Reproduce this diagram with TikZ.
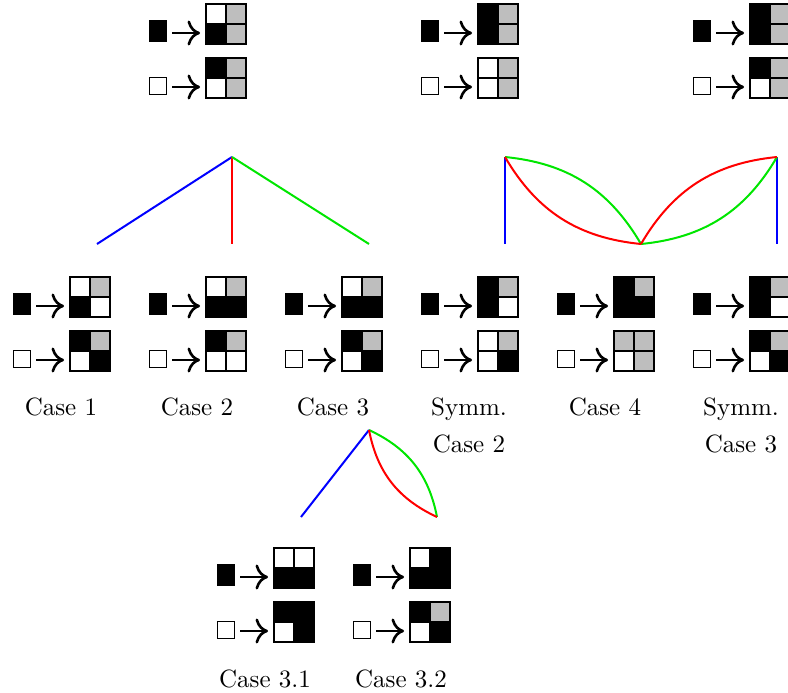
\documentclass[tikz,border=0pt]{standalone}
\usetikzlibrary{arrows.meta}
\definecolor{cellgray}{RGB}{190,190,190}
\definecolor{tb}{RGB}{0,0,255}
\definecolor{tr}{RGB}{255,0,0}
\definecolor{tg}{RGB}{0,230,0}
\tikzset{
  maparrow/.style={line width=1.05pt,-{Computer Modern Rightarrow[length=5pt,width=10pt]}},
  cellline/.style={draw=black,line width=0.45pt},
  branch/.style={line width=0.8pt},
  caselabel/.style={anchor=base,inner sep=0pt,font=\fontsize{10}{12}\selectfont}
}
% one cell of a 2x2 grid: #1 x, #2 y (top-left), #3 colour
\newcommand{\Cell}[3]{\fill[#3] (#1,#2) rectangle ++(20,20);}
% 2x2 grid at top-left (#1,#2), cells TL TR BL BR
\newcommand{\Quad}[6]{%
  \Cell{#1}{#2}{#3}\Cell{#1+20}{#2}{#4}\Cell{#1}{#2+20}{#5}\Cell{#1+20}{#2+20}{#6}%
  \draw[cellline] (#1,#2) rectangle ++(40,40);
  \draw[cellline] (#1+20,#2) -- ++(0,40);
  \draw[cellline] (#1,#2+20) -- ++(40,0);}
% group: grid left #1, top #2, then 4 colours for black rule, 4 for white rule
\newcommand{\Grp}[2]{\GrpA{#1}{#2}}
\newcommand{\GrpA}[2]{\def\gx{#1}\def\gy{#2}\GrpB}
\newcommand{\GrpB}[8]{%
  \fill[black] (\gx-57,\gy+16) rectangle (\gx-39,\gy+38);
  \draw[maparrow] (\gx-34,\gy+29) -- (\gx-6,\gy+29);
  \Quad{\gx}{\gy}{#1}{#2}{#3}{#4}
  \draw[line width=0.45pt,fill=white] (\gx-56.5,\gy+73.5) rectangle (\gx-39.5,\gy+90.5);
  \draw[maparrow] (\gx-34,\gy+83) -- (\gx-6,\gy+83);
  \Quad{\gx}{\gy+54}{#5}{#6}{#7}{#8}}
\begin{document}
\begin{tikzpicture}[x=0.4pt,y=-0.4pt]
\useasboundingbox (0,0) rectangle (788,693);
\begin{scope}
\clip (0,0) rectangle (788,693);
% top row
\Grp{206}{4}{white}{cellgray}{black}{cellgray}{black}{cellgray}{white}{cellgray}
\Grp{478}{4}{black}{cellgray}{black}{cellgray}{white}{cellgray}{white}{cellgray}
\Grp{750}{4}{black}{cellgray}{black}{cellgray}{black}{cellgray}{white}{cellgray}
% second row
\Grp{70}{277}{white}{cellgray}{black}{white}{black}{cellgray}{white}{black}
\Grp{206}{277}{white}{cellgray}{black}{black}{black}{cellgray}{white}{white}
\Grp{342}{277}{white}{cellgray}{black}{black}{black}{cellgray}{white}{black}
\Grp{478}{277}{black}{cellgray}{black}{white}{white}{cellgray}{white}{black}
\Grp{614}{277}{black}{cellgray}{black}{black}{cellgray}{cellgray}{white}{cellgray}
\Grp{750}{277}{black}{cellgray}{black}{white}{black}{cellgray}{white}{black}
% third row
\Grp{274}{548}{white}{white}{black}{black}{black}{black}{white}{black}
\Grp{410}{548}{white}{black}{black}{black}{black}{cellgray}{white}{black}
\end{scope}
% labels
\node[caselabel] (l1) at (61,415) {Case 1};
\node[caselabel] (l2) at (197,415) {Case 2};
\node[caselabel] (l3) at (333,415) {Case 3};
\node[caselabel] (l4a) at (469,415) {Symm.};
\node[caselabel] (l4b) at (469,452) {Case 2};
\node[caselabel] (l5) at (605,415) {Case 4};
\node[caselabel] (l6a) at (741,415) {Symm.};
\node[caselabel] (l6b) at (741,452) {Case 3};
\node[caselabel] (l7) at (265,687) {Case 3.1};
\node[caselabel] (l8) at (401,687) {Case 3.2};
% tree coordinates
\coordinate (r1) at (232,157);
\coordinate (a1) at (97,244);
\coordinate (a2) at (232,244);
\coordinate (a3) at (369,244);
\coordinate (r2) at (505,157);
\coordinate (r3) at (777,157);
\coordinate (b1) at (505,244);
\coordinate (b2) at (641,244);
\coordinate (b3) at (777,244);
\coordinate (r4) at (369,430);
\coordinate (c1) at (301,517);
\coordinate (c2) at (437,517);
% tree 1
\draw[branch,tb] (r1) -- (a1);
\draw[branch,tr] (r1) -- (a2);
\draw[branch,tg] (r1) -- (a3);
% tree 2
\draw[branch,tb] (r2) -- (b1);
\draw[branch,tg] (r2) to[bend left=27] (b2);
\draw[branch,tr] (r2) to[bend right=27] (b2);
\draw[branch,tb] (r3) -- (b3);
\draw[branch,tg] (r3) to[bend left=27] (b2);
\draw[branch,tr] (r3) to[bend right=27] (b2);
% tree 3
\draw[branch,tb] (r4) -- (c1);
\draw[branch,tg] (r4) to[bend left=27] (c2);
\draw[branch,tr] (r4) to[bend right=27] (c2);
\end{tikzpicture}
\end{document}
